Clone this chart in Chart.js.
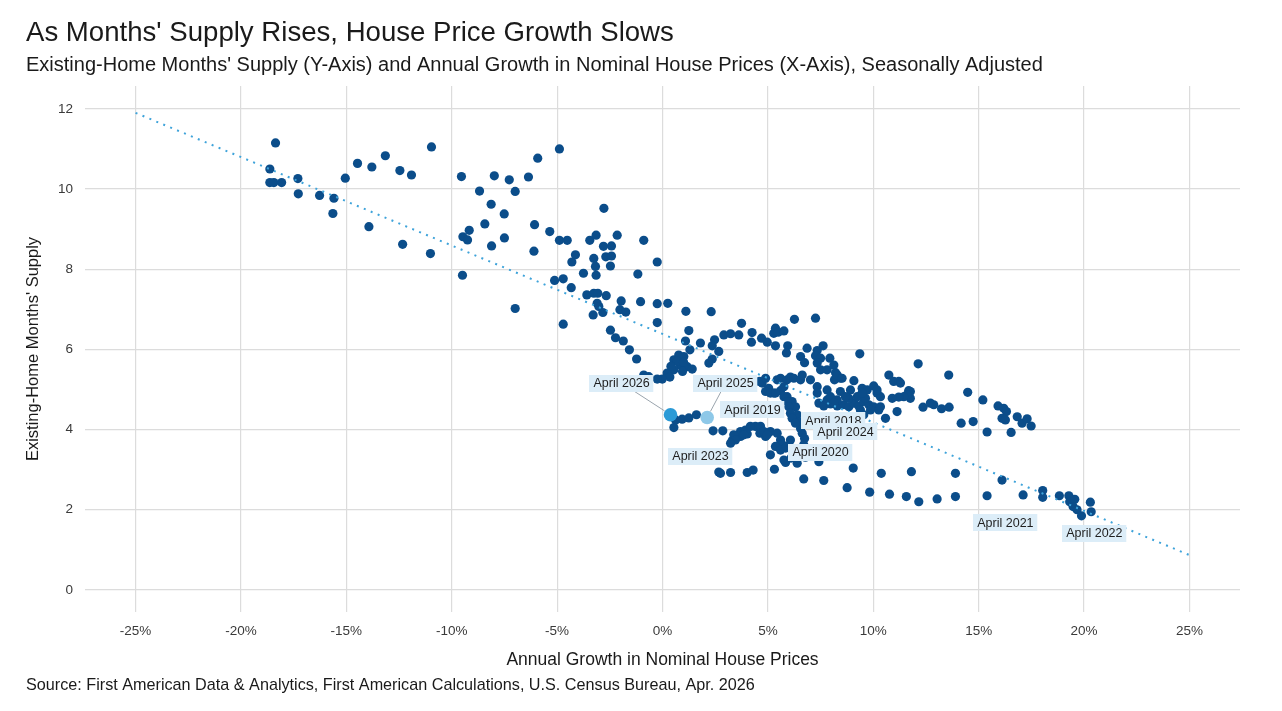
<!DOCTYPE html>
<html>
<head>
<meta charset="utf-8">
<script src="https://cdn.jsdelivr.net/npm/chart.js@4.4.1/dist/chart.umd.min.js"></script>
<style>
  html, body { margin: 0; padding: 0; background: #fff; }
  #wrap { position: relative; width: 1282px; height: 711px; }
</style>
</head>
<body>
<div id="wrap"><canvas id="chart"></canvas></div>
<script>
(function(){
  // Annual growth in nominal house prices (%), one entry per month
  const growth = [
    -18.36, -18.63, -18.63, -18.44, -18.07, -17.30, -17.28, -16.27, -15.59, -15.64,
    -15.05, -14.47, -13.79, -13.15, -13.93, -12.46, -11.91, -12.33, -10.96, -11.01,
    -9.54, -8.68, -7.98, -8.13, -8.43, -9.17, -9.47, -9.25, -8.11, -9.49,
    -4.89, -5.92, -7.27, -6.36, -6.99, -7.51, -2.78, -6.07, -7.50, -5.35,
    -4.89, -4.52, -3.45, -3.15, -2.15, -0.89, -6.10, -2.80, -2.42, -4.13,
    -4.30, -3.26, -2.69, -2.42, -3.18, -2.47, -0.25, -3.75, -3.15, -1.17,
    -5.12, -4.71, -4.33, -3.59, -3.26, -3.07, -2.67, -3.10, -3.02, -3.29,
    -2.83, -1.96, -2.02, -1.74, -1.04, -0.25, 0.25, -0.25, -6.99, -4.71,
    -2.47, -2.23, -1.86, -1.57, -1.23,
    1.11, 2.31, 3.75, 1.25, 1.09, 1.80, 2.47, 2.36, 2.91, 3.23,
    3.62, 4.25, 4.22, 4.70, 4.97, 5.28, 1.30, 2.67, 2.36, 2.20,
    0.54, 0.77, 1.01, 0.85, 1.17, 1.41, 0.54, 0.22, 0.35, -0.01,
    -0.25, -0.65, -0.89, 0.70, 1.00, 0.40, 0.95,
    0.62, 0.93, 1.25, 1.61, 0.54, 2.40, 2.86, 3.31, 3.70, 4.02,
    4.41, 4.62, 4.89, 5.12, 5.12, 2.67, 3.23, 4.02, 4.30, 2.75,
    4.73, 5.04, 5.28, 5.44,
    5.36, 5.49, 5.76, 6.26, 7.26, 5.36, 5.94, 5.88, 6.86, 7.34,
    7.62, 6.55, 6.74, 7.26, 7.50, 7.94, 7.34, 7.50, 7.81, 8.13,
    8.21, 8.29, 8.44, 8.16, 9.36, 12.13, 9.08, 9.47, 9.71, 10.02,
    10.18, 10.34, 10.74, 10.97, 11.21, 11.68, 11.76, 11.13, 10.58, 12.36,
    12.71,
    7.42, 7.65, 7.97, 8.29, 8.60, 8.84, 9.08, 9.31, 9.55, 9.79,
    10.02, 10.26, 8.84, 9.24, 9.63, 8.29, 7.81,
    4.60, 5.60, 5.91, 6.15, 6.31, 6.39, 6.47, 6.55, 6.63, 6.74,
    5.60, 5.91, 6.07, 4.89,
    4.89, 5.12, 5.36, 5.76, 6.23, 6.55, 5.76, 5.92, 5.99, 6.07,
    6.15, 6.31, 6.70, 6.86, 6.94, 6.63, 7.02, 7.34, 7.34, 7.81,
    7.97, 8.13,
    3.70, 3.94, 4.17, 4.65, 4.81, 4.97, 5.44, 5.60, 5.68, 5.84,
    6.07, 3.38, 3.46, 3.23, 5.76, 6.39, 7.42, 5.36, 5.60, 5.88,
    3.86,
    5.31, 5.84, 6.10, 6.78, 9.05, 6.70, 7.65, 8.76, 9.83, 10.77,
    11.57, 12.16, 10.38, 11.81,
    8.29, 8.52, 8.44, 8.92, 8.68, 9.47, 10.18, 10.34, 9.87, 9.39,
    9.55, 9.16,
    13.58, 11.29, 11.76, 11.61, 11.45, 11.21, 10.90, 12.87, 13.24, 13.60,
    14.48, 15.20, 14.17, 14.74, 15.40, 15.92, 16.19, 16.32, 16.11, 16.27,
    16.54, 16.83, 17.06, 17.30, 17.49, 13.90, 13.03, 13.90, 15.40, 17.11,
    16.11, 18.04, 18.04, 18.83, 19.28, 19.32, 19.56, 19.48, 19.67, 19.88,
    20.30, 20.34
  ];

  // Existing-home months' supply, same order as growth
  const supply = [
    11.15, 10.50, 10.16, 10.16, 10.16, 10.26, 9.88, 9.84, 9.77, 9.39,
    10.27, 10.64, 10.55, 10.83, 9.06, 10.46, 10.35, 8.62, 11.05, 8.39,
    10.31, 9.95, 10.33, 9.62, 9.13, 8.97, 8.81, 8.73, 8.58, 7.85,
    11.00, 10.77, 10.23, 10.30, 9.94, 9.38, 9.52, 9.11, 8.78, 8.94,
    8.72, 8.72, 8.72, 8.85, 8.85, 8.72, 8.45, 8.57, 8.58, 8.36,
    8.18, 8.27, 8.31, 8.33, 8.07, 8.08, 8.18, 7.90, 7.85, 7.88,
    7.72, 7.76, 7.54, 7.36, 7.40, 7.40, 7.34, 7.15, 7.07, 6.86,
    6.92, 7.21, 6.99, 6.93, 7.19, 7.14, 7.15, 6.67, 7.02, 6.63,
    6.48, 6.29, 6.21, 5.99, 5.76,
    6.95, 6.94, 6.65, 6.47, 6.21, 6.16, 6.24, 6.09, 6.36, 6.39,
    6.36, 6.42, 6.18, 6.28, 6.18, 6.40, 5.99, 5.95, 5.76, 5.66,
    5.74, 5.86, 5.82, 5.61, 5.57, 5.51, 5.49, 5.41, 5.31, 5.26,
    5.26, 5.32, 5.36, 5.70, 5.68, 5.58, 5.45,
    4.24, 4.26, 4.29, 4.37, 4.05, 3.97, 3.97, 3.73, 3.83, 3.89,
    4.08, 3.91, 3.83, 3.95, 3.37, 2.94, 2.93, 2.93, 2.99, 2.91,
    5.16, 5.03, 4.91, 5.24,
    6.53, 6.43, 6.46, 6.75, 6.78, 6.09, 6.09, 5.91, 6.03, 5.97,
    6.09, 5.82, 5.67, 5.84, 5.78, 5.78, 5.66, 5.49, 5.49, 5.61,
    5.42, 5.31, 5.28, 5.24, 5.89, 5.64, 5.22, 5.03, 4.99, 5.09,
    4.91, 4.82, 5.36, 5.20, 5.20, 4.97, 4.78, 4.45, 4.28, 4.56,
    4.66,
    4.66, 4.59, 4.64, 4.59, 4.62, 4.57, 4.66, 4.59, 4.70, 4.62,
    4.57, 4.49, 4.78, 4.82, 4.78, 4.74, 4.74,
    5.20, 4.97, 4.82, 4.70, 4.57, 4.37, 4.20, 4.03, 3.91, 3.78,
    5.28, 5.24, 5.31, 5.28,
    4.95, 4.91, 4.91, 5.07, 5.28, 5.24, 4.82, 4.70, 4.57, 4.41,
    4.28, 4.16, 3.62, 3.49, 3.33, 5.36, 5.24, 5.07, 4.91, 4.99,
    4.82, 4.66,
    3.95, 3.99, 4.08, 4.08, 3.95, 3.87, 3.91, 3.74, 3.62, 3.54,
    3.74, 3.87, 3.74, 3.66, 3.24, 3.16, 3.20, 3.58, 3.49, 3.58,
    3.87,
    3.01, 3.18, 3.29, 3.31, 3.04, 2.77, 2.73, 2.55, 2.44, 2.39,
    2.33, 2.20, 2.91, 2.95,
    5.36, 5.28, 4.95, 4.99, 4.82, 4.91, 4.99, 4.57, 4.49, 4.49,
    4.37, 4.28,
    5.36, 5.16, 4.95, 4.87, 4.82, 4.81, 4.78, 4.62, 4.52, 4.56,
    4.93, 4.74, 4.16, 4.20, 3.94, 4.59, 4.53, 4.45, 4.28, 4.24,
    3.93, 4.32, 4.16, 4.27, 4.09, 2.91, 2.27, 2.33, 2.35, 2.37,
    2.74, 2.48, 2.31, 2.35, 2.35, 2.20, 2.26, 2.08, 2.00, 1.85,
    2.19, 1.95
  ];

  // Latest two readings, shown in lighter blues
  const highlightNames = ['April 2026', 'April 2025'];
  const highlightGrowth = [0.38, 2.12];
  const highlightSupply = [4.37, 4.30];

  // Fitted trend line ends
  const trendGrowth = [-25, 25];
  const trendSupply = [11.90, 0.87];

  const xTicks = [-25, -20, -15, -10, -5, 0, 5, 10, 15, 20, 25];
  const yTicks = [0, 2, 4, 6, 8, 10, 12];

  const titleText = "As Months' Supply Rises, House Price Growth Slows";
  const subtitleText = "Existing-Home Months' Supply (Y-Axis) and Annual Growth in Nominal House Prices (X-Axis), Seasonally Adjusted";
  const sourceText = "Source: First American Data & Analytics, First American Calculations, U.S. Census Bureau, Apr. 2026";
  const xTitle = 'Annual Growth in Nominal House Prices';
  const yTitle = "Existing-Home Months' Supply";

  const FONT = '"Liberation Sans", Arial, sans-serif';

  // Month labels: box centre in data units, optional leader to a highlighted point
  const monthLabels = [
    { text: 'April 2026', x: -1.94, y: 5.16, to: 0 },
    { text: 'April 2025', x: 2.99, y: 5.16, to: 1 },
    { text: 'April 2019', x: 4.27, y: 4.49 },
    { text: 'April 2018', x: 8.11, y: 4.22 },
    { text: 'April 2024', x: 8.68, y: 3.94 },
    { text: 'April 2023', x: 1.80, y: 3.34 },
    { text: 'April 2020', x: 7.50, y: 3.44 },
    { text: 'April 2021', x: 16.27, y: 1.67 },
    { text: 'April 2022', x: 20.49, y: 1.42 }
  ];

  const points = growth.map((g, i) => ({ x: g, y: supply[i] }));
  const trend = trendGrowth.map((g, i) => ({ x: g, y: trendSupply[i] }));

  const labelPlugin = {
    id: 'monthLabels',
    afterDatasetsDraw(chart) {
      const ctx = chart.ctx;
      const xs = chart.scales.x, ys = chart.scales.y;
      ctx.save();
      ctx.font = '12.5px ' + FONT;
      // leader lines first
      monthLabels.forEach(l => {
        if (l.to === undefined) return;
        const bx = xs.getPixelForValue(l.x), by = ys.getPixelForValue(l.y);
        const px = xs.getPixelForValue(highlightGrowth[l.to]);
        const py = ys.getPixelForValue(highlightSupply[l.to]);
        const d = Math.hypot(px - bx, py - by);
        ctx.strokeStyle = '#9aa4ad';
        ctx.lineWidth = 1;
        ctx.beginPath();
        ctx.moveTo(bx, by);
        ctx.lineTo(px - (px - bx) * 7 / d, py - (py - by) * 7 / d);
        ctx.stroke();
      });
      monthLabels.forEach(l => {
        const bx = xs.getPixelForValue(l.x), by = ys.getPixelForValue(l.y);
        const w = ctx.measureText(l.text).width + 8;
        const h = 17;
        ctx.fillStyle = '#dcedf8';
        ctx.fillRect(Math.round(bx - w / 2), Math.round(by - h / 2), w, h);
        ctx.fillStyle = '#1e1e1e';
        ctx.textAlign = 'center';
        ctx.textBaseline = 'middle';
        ctx.fillText(l.text, bx, by + 0.5);
      });
      ctx.restore();
    }
  };

  const textPlugin = {
    id: 'pageText',
    afterDraw(chart) {
      const ctx = chart.ctx;
      const area = chart.chartArea;
      ctx.save();
      ctx.fillStyle = '#1a1a1a';
      ctx.textBaseline = 'alphabetic';
      ctx.textAlign = 'left';
      ctx.font = '27.6px ' + FONT;
      ctx.fillText(titleText, 26, 41);
      ctx.font = '20px ' + FONT;
      ctx.fillText(subtitleText, 26, 71);
      ctx.font = '16.2px ' + FONT;
      ctx.fillText(sourceText, 26, 690);

      ctx.textAlign = 'center';
      ctx.font = '17.5px ' + FONT;
      ctx.fillText(xTitle, (area.left + area.right) / 2, 665);
      ctx.font = '16.5px ' + FONT;
      ctx.translate(38, (area.top + area.bottom) / 2);
      ctx.rotate(-Math.PI / 2);
      ctx.fillText(yTitle, 0, 0);
      ctx.restore();
    }
  };

  new Chart(document.getElementById('chart'), {
    type: 'scatter',
    data: {
      datasets: [
        {
          label: 'Latest',
          data: highlightGrowth.map((g, i) => ({ x: g, y: highlightSupply[i] })),
          pointRadius: 6.8,
          pointBackgroundColor: ['#2b9ad6', '#8ec8e8'],
          pointBorderWidth: 0,
          order: 0
        },
        {
          label: 'Trend',
          type: 'line',
          data: trend,
          borderColor: '#3ea3da',
          borderWidth: 2,
          borderDash: [2, 5.5],
          pointRadius: 0,
          fill: false,
          order: 1
        },
        {
          label: 'Months',
          data: points,
          pointRadius: 4.6,
          pointBackgroundColor: '#0b4d8a',
          pointBorderWidth: 0,
          order: 2
        }
      ]
    },
    options: {
      responsive: true,
      maintainAspectRatio: false,
      animation: false,
      events: [],
      layout: { padding: { top: 86, right: 42, bottom: 0, left: 0 } },
      plugins: {
        legend: { display: false },
        tooltip: { enabled: false }
      },
      scales: {
        x: {
          type: 'linear',
          min: -27.4,
          max: 27.4,
          afterFit: s => { s.height = 99; },
          afterBuildTicks: s => { s.ticks = xTicks.map(v => ({ value: v })); },
          border: { display: false },
          grid: { color: '#dcdcdc', lineWidth: 1.2, drawTicks: false },
          ticks: {
            padding: 11,
            color: '#3a3a3a',
            font: { family: FONT, size: 13.5 },
            callback: v => v + '%'
          }
        },
        y: {
          type: 'linear',
          min: -0.55,
          max: 12.57,
          afterFit: s => { s.width = 85; },
          afterBuildTicks: s => { s.ticks = yTicks.map(v => ({ value: v })); },
          border: { display: false },
          grid: { color: '#dcdcdc', lineWidth: 1.2, drawTicks: false },
          ticks: {
            padding: 12,
            color: '#3a3a3a',
            font: { family: FONT, size: 13.5 }
          }
        }
      }
    },
    plugins: [labelPlugin, textPlugin]
  });
})();
</script>
</body>
</html>
